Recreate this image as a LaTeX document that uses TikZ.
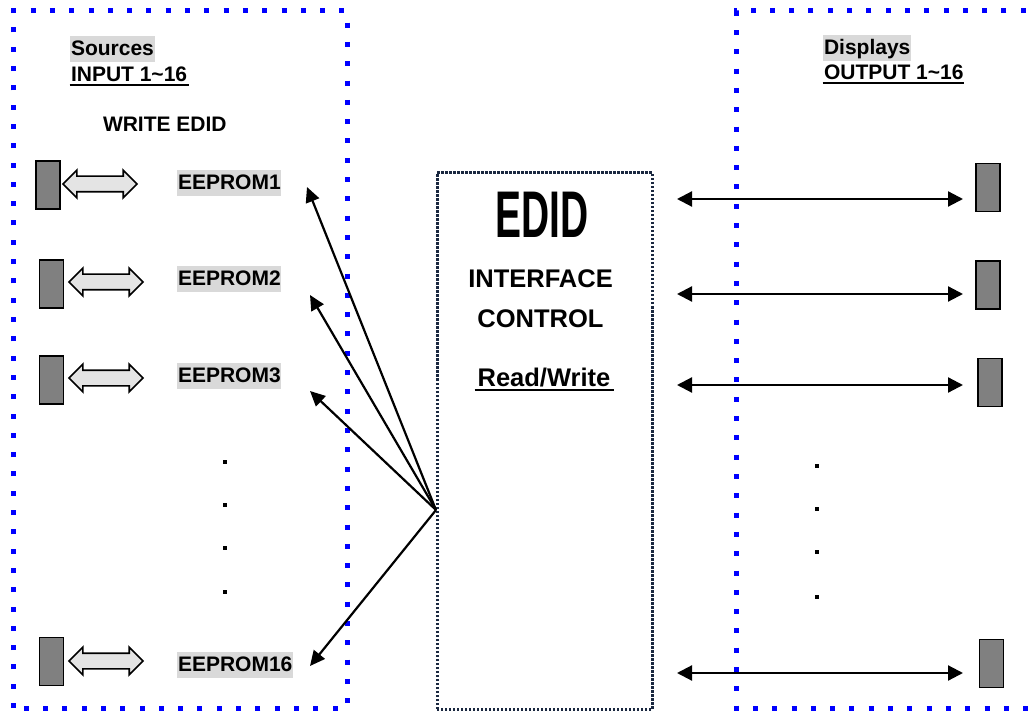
\documentclass[tikz,border=0pt]{standalone}
\usepackage{fontspec}
\setmainfont{Liberation Sans}
\usetikzlibrary{arrows.meta,shapes.arrows}
\definecolor{navy}{HTML}{1A2840}
\definecolor{lbl}{HTML}{D9D9D9}
\definecolor{dev}{HTML}{808080}
\definecolor{harrow}{HTML}{E4E4E4}
\tikzset{
  bluedot/.style={draw=blue, line width=5pt, dash pattern=on 5pt off 14.3pt},
  navydot/.style={draw=navy, line width=3pt, dash pattern=on 2.5pt off 1.5pt},
  device/.style={draw=black, fill=dev, line width=1.5pt, minimum width=24pt, minimum height=48pt, inner sep=0pt},
  hollow/.style={double arrow, draw=black, fill=harrow, line width=1.7pt, inner xsep=0pt, inner ysep=7pt,
     minimum height=74pt, double arrow head extend=6pt, text width=0pt, text height=0pt, text depth=0pt},
  lab/.style={font=\bfseries\fontsize{21}{25}\selectfont, inner xsep=0.8pt, inner ysep=2pt, text height=18pt, text depth=4pt, anchor=base west},
  glab/.style={lab, fill=lbl},
  ctext/.style={font=\bfseries\fontsize{25.5}{30}\selectfont, inner sep=0pt, anchor=base},
  link/.style={line width=2.2pt, -{Triangle[length=15pt,width=14pt]}},
  blink/.style={line width=2.2pt, {Triangle[length=15pt,width=15pt]}-{Triangle[length=15pt,width=15pt]}},
  dotm/.style={fill=black, minimum size=4pt, inner sep=0pt},
}
\begin{document}
\begin{tikzpicture}[x=1pt,y=-1pt]
\useasboundingbox (0,0) rectangle (1031,711);
% frames
\draw[bluedot] (13.5,708) -- (13.5,11) -- (347,11) -- (347,708) -- cycle;
\draw[bluedot] (1045,11) -- (736,11) -- (736,708) -- (1045,708);
\draw[navydot] (437,709) -- (437,173) -- (652,173) -- (652,709) -- cycle;

% left labels
\node[glab] (src) at (70,56) {Sources};
\node[lab] (inp) at (70,82) {INPUT 1{\char"7E}16};
\draw[line width=2pt] (69.5,85.5) -- (188.5,85.5);
\node[lab] (wr) at (102,132) {WRITE EDID};

% left devices
\node[device] (ld1) at (48,185) {};
\node[device] (ld2) at (51.5,284) {};
\node[device] (ld3) at (51.5,380) {};
\node[device] (ld4) at (51.5,661.5) {};
\node[hollow] (ha1) at (100,184) {};
\node[hollow] (ha2) at (106,282) {};
\node[hollow] (ha3) at (106,378) {};
\node[hollow] (ha4) at (106,661) {};

\node[glab] (e1) at (177,190) {EEPROM1};
\node[glab] (e2) at (177,286) {EEPROM2};
\node[glab] (e3) at (177,382.5) {EEPROM3};
\node[glab] (e16) at (177,671.5) {EEPROM16};

\node[dotm] (ldA) at (225,462) {};
\node[dotm] (ldB) at (225,505) {};
\node[dotm] (ldC) at (225,548) {};
\node[dotm] (ldD) at (225,592) {};

% centre
\node[ctext] (edid) at (542,238) {\scalebox{0.59}[1]{\fontsize{66}{70}\selectfont EDID}};
\node[ctext] (ifc) at (540.5,288) {INTERFACE};
\node[ctext] (ctl) at (540.5,327) {CONTROL};
\node[ctext] (rw) at (544,386) {Read/Write};
\draw[line width=2pt] (474.5,390) -- (613.5,390);

% fan arrows
\coordinate (hub) at (436,510);
\coordinate (t1) at (307,187);
\coordinate (t2) at (310,295);
\coordinate (t3) at (310,391);
\coordinate (t4) at (310,666);
\draw[link] (hub) -- (t1);
\draw[link] (hub) -- (t2);
\draw[link] (hub) -- (t3);
\draw[link] (hub) -- (t4);

% right labels
\node[glab] (dsp) at (823,55) {Displays};
\node[lab] (out) at (823,80) {OUTPUT 1{\char"7E}16};
\draw[line width=2pt] (822.5,83.5) -- (963.5,83.5);

% right devices
\node[device] (rd1) at (988,187.5) {};
\node[device] (rd2) at (988,285) {};
\node[device] (rd3) at (990,382.5) {};
\node[device] (rd4) at (991.5,663.5) {};

\coordinate (a1) at (677,199);  \coordinate (b1) at (963,199);
\coordinate (a2) at (677,294);  \coordinate (b2) at (963,294);
\coordinate (a3) at (677,385);  \coordinate (b3) at (963,385);
\coordinate (a4) at (677,673);  \coordinate (b4) at (963,673);
\draw[blink] (a1) -- (b1);
\draw[blink] (a2) -- (b2);
\draw[blink] (a3) -- (b3);
\draw[blink] (a4) -- (b4);

\node[dotm] (rdA) at (817,466) {};
\node[dotm] (rdB) at (817,509) {};
\node[dotm] (rdC) at (817,552) {};
\node[dotm] (rdD) at (817,597) {};
\end{tikzpicture}
\end{document}
